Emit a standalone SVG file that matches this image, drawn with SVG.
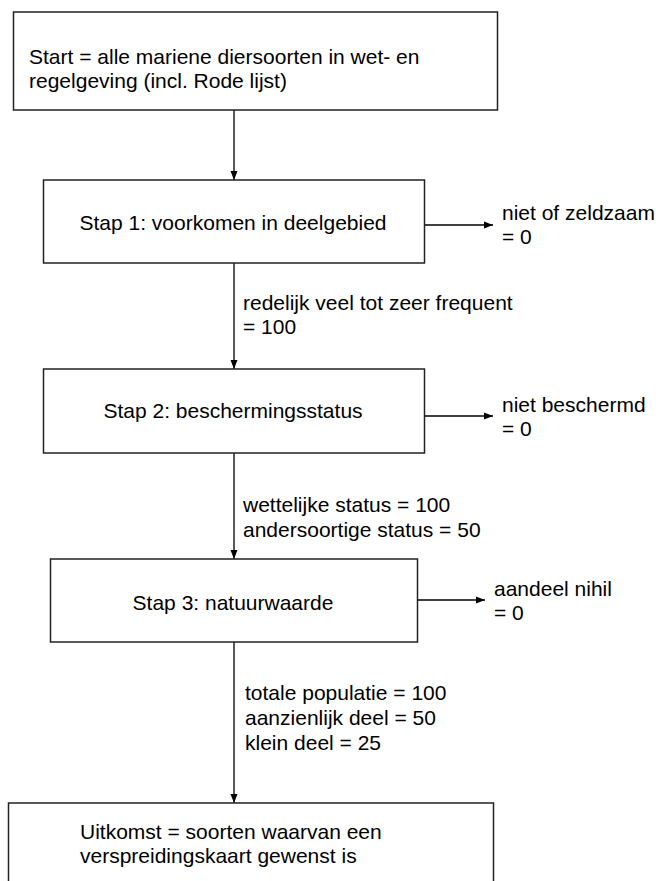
<svg xmlns="http://www.w3.org/2000/svg" width="661" height="881" viewBox="0 0 661 881">
<defs>
<marker id="ah" markerWidth="10" markerHeight="8" refX="9" refY="4" orient="auto" markerUnits="userSpaceOnUse">
<path d="M0,0.5 L9,4 L0,7.5 Z" fill="#000"/>
</marker>
<style>
.box{fill:#fff;stroke:#222;stroke-width:1.5}
.t{font-family:"Liberation Sans",Arial,sans-serif;font-size:21px;fill:#000}
.c{text-anchor:middle}
.ln{stroke:#000;stroke-width:1.3;fill:none;marker-end:url(#ah)}
</style>
</defs>
<rect width="661" height="881" fill="#fff"/>
<g id="connectors">
<line class="ln" x1="234" y1="110" x2="234" y2="180"/>
<line class="ln" x1="424" y1="225" x2="493" y2="225"/>
<line class="ln" x1="234" y1="263" x2="234" y2="369"/>
<line class="ln" x1="424" y1="416" x2="493" y2="416"/>
<line class="ln" x1="234" y1="453" x2="234" y2="559"/>
<line class="ln" x1="417" y1="600" x2="485" y2="600"/>
<line class="ln" x1="234" y1="642" x2="234" y2="803"/>
</g>
<g id="start">
<rect class="box" x="13.5" y="12" width="484" height="98"/>
<text class="t" x="29" y="64">Start = alle mariene diersoorten in wet- en</text>
<text class="t" x="29" y="88">regelgeving (incl. Rode lijst)</text>
</g>
<g id="stap1">
<rect class="box" x="43.5" y="180" width="381" height="83"/>
<text class="t c" x="233" y="230">Stap 1: voorkomen in deelgebied</text>
</g>
<g id="label1">
<text class="t" x="502" y="220">niet of zeldzaam</text>
<text class="t" x="502" y="244">= 0</text>
</g>
<g id="label1b">
<text class="t" x="243" y="310">redelijk veel tot zeer frequent</text>
<text class="t" x="243" y="334">= 100</text>
</g>
<g id="stap2">
<rect class="box" x="43.5" y="369" width="381" height="84"/>
<text class="t c" x="233" y="418">Stap 2: beschermingsstatus</text>
</g>
<g id="label2">
<text class="t" x="502" y="412">niet beschermd</text>
<text class="t" x="502" y="436">= 0</text>
</g>
<g id="label2b">
<text class="t" x="243" y="512">wettelijke status = 100</text>
<text class="t" x="243" y="537">andersoortige status = 50</text>
</g>
<g id="stap3">
<rect class="box" x="50.5" y="559" width="367" height="83"/>
<text class="t c" x="233" y="610">Stap 3: natuurwaarde</text>
</g>
<g id="label3">
<text class="t" x="494" y="596">aandeel nihil</text>
<text class="t" x="494" y="620">= 0</text>
</g>
<g id="label3b">
<text class="t" x="245" y="700">totale populatie = 100</text>
<text class="t" x="245" y="725">aanzienlijk deel = 50</text>
<text class="t" x="245" y="750">klein deel = 25</text>
</g>
<g id="uitkomst">
<rect class="box" x="8.5" y="803" width="485" height="100"/>
<text class="t" x="80" y="839">Uitkomst = soorten waarvan een</text>
<text class="t" x="80" y="863">verspreidingskaart gewenst is</text>
</g>
</svg>
